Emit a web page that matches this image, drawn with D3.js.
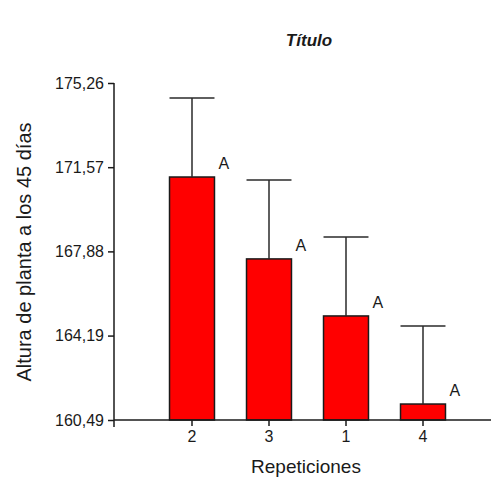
<!DOCTYPE html>
<html>
<head>
<meta charset="utf-8">
<script src="https://cdn.jsdelivr.net/npm/d3@7"></script>
<style>
  body { margin: 0; background: #fff; }
  text { font-family: "Liberation Sans", Arial, sans-serif; fill: #1a1a1a; }
</style>
</head>
<body>
<div id="chart"></div>
<script>
// data
var categories = ["2", "3", "1", "4"];
var means = [171.14, 167.55, 165.05, 161.19];
var errors = [3.46, 3.46, 3.46, 3.42];
var letters = ["A", "A", "A", "A"];
var yTicks = [160.49, 164.19, 167.88, 171.57, 175.26];

var svgWidth = 491;
var svgHeight = 479;

var svg = d3.select("#chart")
  .append("svg")
  .attr("width", svgWidth)
  .attr("height", svgHeight);

// scales
var yScale = d3.scaleLinear()
  .domain([160.49, 175.26])
  .range([420, 83]);

var xScale = d3.scaleBand()
  .domain(categories)
  .range([153.5, 461.5])
  .paddingInner(0.416)
  .paddingOuter(0.208);

var comma = d3.formatLocale({ decimal: ",", thousands: ".", grouping: [3], currency: ["", ""] }).format(".2f");

// y axis
var leftAxis = d3.axisLeft(yScale)
  .tickValues(yTicks)
  .tickFormat(comma)
  .tickSize(6)
  .tickSizeOuter(0)
  .tickPadding(4);

var yAxisG = svg.append("g")
  .attr("transform", "translate(114,0)")
  .call(leftAxis);
yAxisG.select(".domain").remove();
yAxisG.selectAll("line").attr("stroke", "#1a1a1a").attr("stroke-width", 1.5);
yAxisG.selectAll("text")
  .attr("font-size", "16px")
  .attr("font-family", "Liberation Sans, Arial, sans-serif")
  .attr("fill", "#1a1a1a");

// y axis line, runs a little below the x axis
svg.append("line")
  .attr("x1", 114).attr("x2", 114)
  .attr("y1", yScale(175.26)).attr("y2", yScale(160.49) + 7)
  .attr("stroke", "#1a1a1a")
  .attr("stroke-width", 1.5);

// bars
svg.append("g")
  .selectAll("rect")
  .data(categories)
  .enter()
  .append("rect")
  .attr("x", d => xScale(d))
  .attr("width", xScale.bandwidth())
  .attr("y", (d, i) => yScale(means[i]))
  .attr("height", (d, i) => yScale(160.49) - yScale(means[i]))
  .attr("fill", "#ff0000")
  .attr("stroke", "#1a1a1a")
  .attr("stroke-width", 1.5);

// error bars (upper only)
var errG = svg.append("g")
  .attr("stroke", "#2a2a2a")
  .attr("stroke-width", 1.5);

categories.forEach(function(c, i) {
  var cx = xScale(c) + xScale.bandwidth() / 2;
  errG.append("line")
    .attr("x1", cx).attr("x2", cx)
    .attr("y1", yScale(means[i])).attr("y2", yScale(means[i] + errors[i]));
  errG.append("line")
    .attr("x1", xScale(c)).attr("x2", xScale(c) + xScale.bandwidth())
    .attr("y1", yScale(means[i] + errors[i])).attr("y2", yScale(means[i] + errors[i]));
});

// letters
svg.append("g")
  .selectAll("text")
  .data(categories)
  .enter()
  .append("text")
  .attr("x", d => xScale(d) + xScale.bandwidth() + 4)
  .attr("y", (d, i) => yScale(means[i]) - 8)
  .attr("font-size", "16px")
  .text((d, i) => letters[i]);

// x axis
var bottomAxis = d3.axisBottom(xScale)
  .tickSize(6)
  .tickSizeOuter(0)
  .tickPadding(5);

var xAxisG = svg.append("g")
  .attr("transform", "translate(0,420)")
  .call(bottomAxis);
xAxisG.select(".domain").remove();
xAxisG.selectAll("line").attr("stroke", "#1a1a1a").attr("stroke-width", 1.5);
xAxisG.selectAll("text")
  .attr("font-size", "16px")
  .attr("font-family", "Liberation Sans, Arial, sans-serif")
  .attr("fill", "#1a1a1a");

svg.append("line")
  .attr("x1", 114).attr("x2", svgWidth)
  .attr("y1", 420).attr("y2", 420)
  .attr("stroke", "#1a1a1a")
  .attr("stroke-width", 1.5);

// labels
svg.append("text")
  .attr("x", 309)
  .attr("y", 46)
  .attr("text-anchor", "middle")
  .attr("font-size", "17px")
  .attr("font-weight", "bold")
  .attr("font-style", "italic")
  .text("Título");

svg.append("text")
  .attr("transform", "translate(31,252) rotate(-90)")
  .attr("text-anchor", "middle")
  .attr("font-size", "20px")
  .text("Altura de planta a los 45 días");

svg.append("text")
  .attr("x", 306)
  .attr("y", 473)
  .attr("text-anchor", "middle")
  .attr("font-size", "19px")
  .text("Repeticiones");
</script>
</body>
</html>
